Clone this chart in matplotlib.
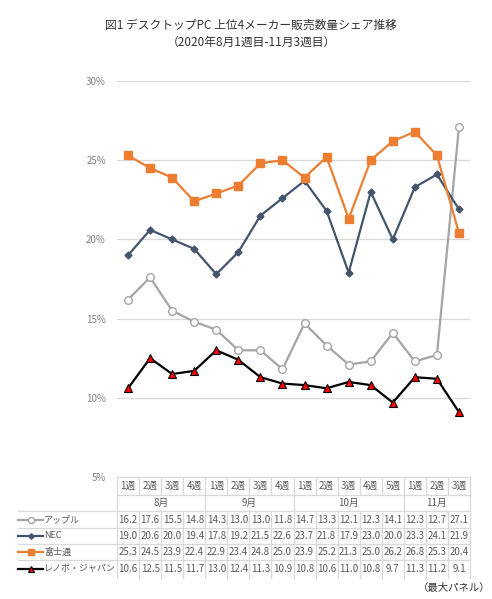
import matplotlib.pyplot as plt
from matplotlib import transforms
from matplotlib.lines import Line2D

plt.rcParams['font.family'] = ['Noto Sans CJK JP', 'DejaVu Sans']

weeks = ["1週", "2週", "3週", "4週", "1週", "2週", "3週", "4週",
         "1週", "2週", "3週", "4週", "5週", "1週", "2週", "3週"]
months = ["8月", "9月", "10月", "11月"]
month_spans = [(0, 3), (4, 7), (8, 12), (13, 15)]

names = ["アップル", "NEC", "富士通", "レノボ・ジャパン"]
apple = [16.2, 17.6, 15.5, 14.8, 14.3, 13.0, 13.0, 11.8, 14.7, 13.3, 12.1, 12.3, 14.1, 12.3, 12.7, 27.1]
nec = [19.0, 20.6, 20.0, 19.4, 17.8, 19.2, 21.5, 22.6, 23.7, 21.8, 17.9, 23.0, 20.0, 23.3, 24.1, 21.9]
fujitsu = [25.3, 24.5, 23.9, 22.4, 22.9, 23.4, 24.8, 25.0, 23.9, 25.2, 21.3, 25.0, 26.2, 26.8, 25.3, 20.4]
lenovo = [10.6, 12.5, 11.5, 11.7, 13.0, 12.4, 11.3, 10.9, 10.8, 10.6, 11.0, 10.8, 9.7, 11.3, 11.2, 9.1]
series = [apple, nec, fujitsu, lenovo]

colors = ["#A5A5A5", "#44546A", "#ED7D31", "#000000"]
marks = [
    dict(marker="o", markersize=5.5, markerfacecolor="white", markeredgecolor="#A5A5A5", markeredgewidth=1),
    dict(marker="D", markersize=3.5, markerfacecolor="#44546A", markeredgecolor="#44546A"),
    dict(marker="s", markersize=5.5, markerfacecolor="#ED7D31", markeredgecolor="#ED7D31"),
    dict(marker="^", markersize=6, markerfacecolor="#FF0000", markeredgecolor="#000000", markeredgewidth=0.8),
]

W, H = 492, 599
fig = plt.figure(figsize=(W / 100, H / 100), dpi=100)
fig.patch.set_facecolor("white")

def fy(py):
    return 1 - py / H

ax = fig.add_axes([117 / W, fy(477), (470 - 117) / W, (477 - 81) / H])
x = list(range(len(weeks)))
for vals, c, mk in zip(series, colors, marks):
    ax.plot(x, vals, color=c, linewidth=1.6, zorder=3, **mk)

ax.set_xlim(-0.5, len(weeks) - 0.5)
ax.set_ylim(5, 30)
ax.set_yticks([5, 10, 15, 20, 25, 30])
ax.set_yticklabels(["5%", "10%", "15%", "20%", "25%", "30%"], color="#808080", fontsize=7)
ax.tick_params(axis="y", length=0, pad=8)
ax.set_xticks([])
ax.grid(axis="y", color="#D9D9D9", linewidth=0.9)
for s in ["top", "right", "left"]:
    ax.spines[s].set_visible(False)
ax.spines["bottom"].set_color("#D9D9D9")

# table below the plot
tr = transforms.blended_transform_factory(ax.transData, fig.transFigure)
px = transforms.blended_transform_factory(transforms.IdentityTransform(), fig.transFigure)
tcol = "#595959"
lcol = "#D9D9D9"

def hline(x0, x1, py, t=tr):
    fig.add_artist(Line2D([x0, x1], [fy(py), fy(py)], transform=t, color=lcol, linewidth=0.9))

def vline(xd, py0, py1):
    fig.add_artist(Line2D([xd, xd], [fy(py0), fy(py1)], transform=tr, color=lcol, linewidth=0.9))

for i, w in enumerate(weeks):
    fig.text(i, fy(486), w, transform=tr, ha="center", va="center", fontsize=7, color=tcol)
for i in range(len(weeks) + 1):
    vline(i - 0.5, 477, 495)
hline(-0.5, len(weeks) - 0.5, 495)

for m, (a, b) in zip(months, month_spans):
    fig.text((a + b) / 2, fy(503), m, transform=tr, ha="center", va="center", fontsize=7, color=tcol)
    vline(a - 0.5, 495, 511)
vline(len(weeks) - 0.5, 495, 511)

row_y = [520, 536, 552, 569]
sep_y = [511, 528, 544, 560]
for py in sep_y:
    hline(18, 470, py, t=px)

for name, vals, c, mk, py in zip(names, series, colors, marks, row_y):
    for i, v in enumerate(vals):
        fig.text(i, fy(py), f"{v:.1f}", transform=tr, ha="center", va="center", fontsize=7, color=tcol)
    fig.add_artist(Line2D([18 / W, 43 / W], [fy(py), fy(py)], transform=fig.transFigure,
                          color=c, linewidth=1.6))
    small = dict(mk)
    small["markersize"] = mk["markersize"] * 0.8
    fig.add_artist(Line2D([30.5 / W], [fy(py)], transform=fig.transFigure, linestyle="none", **small))
    fig.text(44 / W, fy(py), name, ha="left", va="center", fontsize=6.5, color=tcol)
for i in range(len(weeks) + 1):
    vline(i - 0.5, 511, 578)

fig.text(0.51, fy(25), "図1 デスクトップPC 上位4メーカー販売数量シェア推移", ha="center", va="center",
         fontsize=8.5, color="#333333")
fig.text(0.51, fy(42), "（2020年8月1週目-11月3週目）", ha="center", va="center",
         fontsize=8.5, color="#333333")
fig.text(490 / W, fy(588), "（最大パネル）", ha="right", va="center", fontsize=7.5, color="#333333")

fig.savefig("out.png", dpi=100, facecolor="white")
